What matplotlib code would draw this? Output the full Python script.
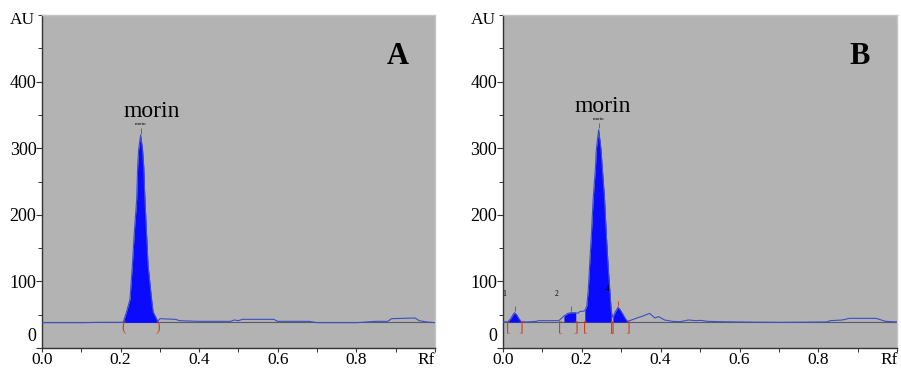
#!/usr/bin/env python3
"""
Densitogram panels (A: standard, B: sample) with the morin peak marked.
"""

import numpy as np
import matplotlib.pyplot as plt
from matplotlib.ticker import MultipleLocator

# panel A trace (Rf, AU)
rf_a = [0.00, 0.05, 0.10, 0.15, 0.20, 0.207, 0.215, 0.224, 0.230, 0.235, 0.241,
        0.2435, 0.246, 0.251, 0.256, 0.259, 0.262, 0.266, 0.270, 0.279, 0.283,
        0.295, 0.30, 0.34, 0.35, 0.40, 0.48, 0.49, 0.50, 0.51, 0.59, 0.60, 0.68,
        0.70, 0.80, 0.85, 0.88, 0.89, 0.95, 0.96, 0.98, 1.00]
au_a = [38, 38, 38, 38.5, 38.5, 39, 54, 73, 124, 174, 223,
        272, 298, 320, 298, 272, 223, 174, 124, 73, 54,
        40, 44, 43, 41, 40, 40, 42, 41, 43, 43, 40, 40,
        38, 38, 40, 40, 44, 45, 41, 39, 38]
peaks_a = [(0.207, 0.295)]
base_a = 38.5

# panel B trace (Rf, AU)
rf_b = [0.000, 0.013, 0.020, 0.026, 0.030, 0.035, 0.041, 0.047, 0.06, 0.085,
        0.09, 0.14, 0.144, 0.155, 0.165, 0.172, 0.18, 0.185, 0.19, 0.196,
        0.203, 0.208, 0.213, 0.217, 0.220, 0.225, 0.229, 0.235, 0.237, 0.243,
        0.249, 0.252, 0.258, 0.262, 0.267, 0.272, 0.275, 0.279, 0.285, 0.292,
        0.297, 0.305, 0.312, 0.317, 0.326, 0.34, 0.355, 0.372, 0.38, 0.385,
        0.395, 0.41, 0.43, 0.45, 0.47, 0.49, 0.50, 0.52, 0.55, 0.60,
        0.70, 0.82, 0.83, 0.86, 0.878, 0.946, 0.97, 1.00]
au_b = [39, 39.5, 44, 50, 53, 50, 44, 39.5, 39, 40,
        41, 41, 42, 48, 52, 53, 53, 53, 52, 55,
        55, 56, 63, 90, 123, 175, 223, 272, 298, 328,
        298, 272, 223, 175, 123, 80, 55, 46, 54, 61,
        58, 50, 43, 40, 42, 45, 48, 52, 48, 45,
        47, 42, 40, 39.5, 42, 41, 41.5, 40, 39.5, 39,
        38.5, 39, 41, 42, 44.5, 44.5, 40, 39]
peaks_b = [(0.013, 0.047), (0.147, 0.185), (0.208, 0.277), (0.277, 0.317)]
base_b = 39
peak_ids_b = ["1", "2", "", "4"]

panel_letters = ["A", "B"]
xtick_vals = [0.0, 0.2, 0.4, 0.6, 0.8, 1.0]
xtick_text = ["0.0", "0.2", "0.4", "0.6", "0.8", "Rf"]
ytick_vals = [0, 100, 200, 300, 400]

SERIF = ["Liberation Serif", "DejaVu Serif"]
BG = "#b3b3b3"
FILL = "#0a0aff"
LINE = "#3d4ec4"
RED = "#d0401c"


def draw_panel(ax, rf, au, peaks, base, letter, brackets, ids=None):
    rf = np.asarray(rf)
    au = np.asarray(au)
    ax.set_facecolor(BG)
    ax.axhline(base, color="#5a5a6a", lw=0.8, zorder=1)
    for i, (lo, hi) in enumerate(peaks):
        m = (rf >= lo - 1e-9) & (rf <= hi + 1e-9)
        ax.fill_between(rf[m], base, au[m], color=FILL, lw=0, zorder=2)
        # bracket marks at the integration limits
        ax.text(lo, base - 8, brackets[0], color=RED, fontsize=10,
                ha="center", va="center", family=SERIF, zorder=4)
        ax.text(hi, base - 8, brackets[1], color=RED, fontsize=10,
                ha="center", va="center", family=SERIF, zorder=4)
        # apex tick
        k = np.argmax(np.where(m, au, -1))
        ax.vlines(rf[k], au[k] + 2, au[k] + 10, color=RED, lw=0.7, zorder=4)
        if ids and ids[i]:
            ax.annotate(ids[i], (lo, au[k]), xytext=(-3, 12),
                        textcoords="offset points", fontsize=5.5, ha="center",
                        family=SERIF)
    ax.plot(rf, au, color=LINE, lw=0.8, zorder=3)

    # peak name
    k = int(np.argmax(au))
    ax.annotate("morin", (rf[k], au[k]), xytext=(0, 7),
                textcoords="offset points", fontsize=3.5, ha="center",
                family=SERIF)
    ax.annotate("morin", (rf[k], au[k]), xytext=(8 if letter == "A" else 3, 13),
                textcoords="offset points", fontsize=17, ha="center",
                family=SERIF)
    ax.text(0.905, 0.875, letter, transform=ax.transAxes, fontsize=22,
            fontweight="bold", ha="center", va="center", family=SERIF)

    ax.set_xlim(0, 1.0)
    ax.set_ylim(0, 500)
    ax.set_xticks(xtick_vals)
    ax.set_xticklabels(xtick_text, family=SERIF, fontsize=12.5)
    ax.get_xticklabels()[-1].set_ha("right")
    ax.xaxis.set_minor_locator(MultipleLocator(0.1))
    ax.set_yticks(ytick_vals)
    ax.set_yticklabels([""] + [str(v) for v in ytick_vals[1:]],
                       family=SERIF, fontsize=13)
    ax.yaxis.set_minor_locator(MultipleLocator(50))
    ax.annotate("0", (0, 0), xycoords=("axes fraction", "data"),
                xytext=(-4, 8), textcoords="offset points", ha="right",
                va="center", family=SERIF, fontsize=13)
    ax.text(-0.018, 0.985, "AU", transform=ax.transAxes, ha="right",
            va="center", family=SERIF, fontsize=12.5)
    ax.tick_params(which="major", direction="out", length=4, width=0.8,
                   pad=0, color="#333333")
    ax.tick_params(which="minor", direction="out", length=3, width=0.7,
                   color="#333333")
    ax.tick_params(axis="x", which="major", length=3, pad=0)
    for side in ("left", "bottom"):
        ax.spines[side].set_color("#333333")
        ax.spines[side].set_linewidth(1.0)
    for side in ("top", "right"):
        ax.spines[side].set_color("#c6c6c6")
        ax.spines[side].set_linewidth(1.0)


def main():
    fig = plt.figure(figsize=(9.01, 3.69), dpi=100)
    ax_a = fig.add_axes([0.0466, 0.057, 0.436, 0.902])
    ax_b = fig.add_axes([0.558, 0.057, 0.438, 0.902])
    draw_panel(ax_a, rf_a, au_a, peaks_a, base_a, panel_letters[0], ("(", ")"))
    draw_panel(ax_b, rf_b, au_b, peaks_b, base_b, panel_letters[1], ("[", "]"),
               peak_ids_b)
    fig.savefig("out.png", dpi=100)


if __name__ == "__main__":
    main()
